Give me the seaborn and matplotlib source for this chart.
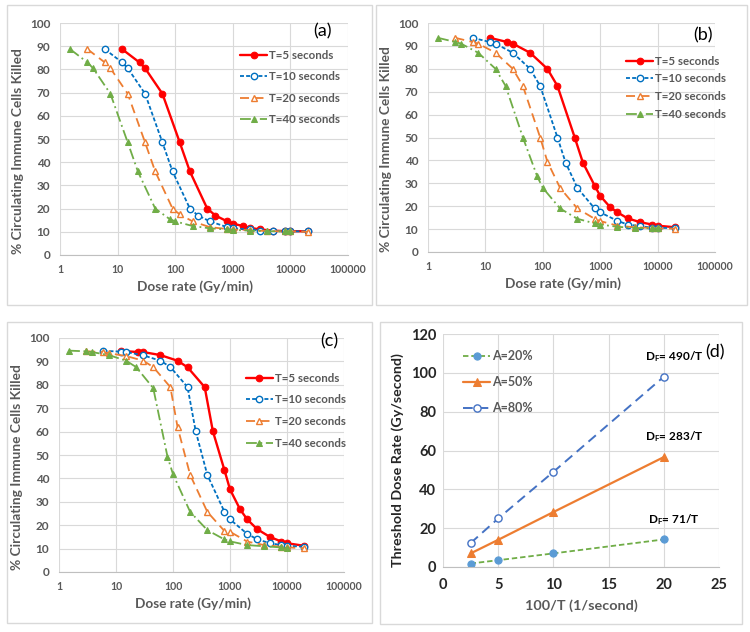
import matplotlib
matplotlib.use("Agg")
import matplotlib.pyplot as plt
import seaborn as sns
from matplotlib.patches import Rectangle
from matplotlib.ticker import FixedLocator, LogLocator, NullFormatter

# dose rates (Gy/min) per exposure time
rate_t5 = [12, 24, 30, 60, 120, 180, 360, 500, 800, 1000, 1500, 2000, 3000, 5000, 8000, 10000, 20000]
rate_t10 = [6, 12, 15, 30, 60, 90, 180, 250, 400, 800, 1000, 2000, 3000, 5000, 8000, 10000, 20000]
rate_t20 = [3, 6, 7.5, 15, 30, 45, 90, 120, 200, 400, 800, 1000, 2000, 4000, 8000, 10000, 20000]
rate_t40 = [1.5, 3, 3.75, 7.5, 15, 22.5, 45, 80, 100, 200, 400, 800, 1000, 2000, 4000, 8000, 10000]

# panel (a)
a_t5 = [88.7, 83, 80.5, 69.5, 48.5, 36, 20, 17, 14.5, 13.5, 12.5, 11.7, 11, 10.5, 10.3, 10.3, 10.2]
a_t10 = [88.7, 83, 80.5, 69.5, 48.5, 36, 20, 17, 14.5, 12, 11.5, 11, 10.5, 10.3, 10.3, 10.2, 10.2]
a_t20 = [88.7, 83, 80.5, 69.5, 48.5, 36, 20, 17.5, 14.5, 12, 11.2, 11, 10.7, 10.3, 10.2, 10.2, 10]
a_t40 = [88.7, 83, 80.5, 69.5, 48.5, 36, 20, 15.5, 14.5, 12.5, 11.5, 11, 10.8, 10.5, 10.2, 10.2, 10.2]

# panel (b)
b_t5 = [93.5, 91.7, 91, 87, 80, 72.5, 50, 39, 29, 24.5, 19.5, 17.3, 14.7, 13, 12, 11.5, 10.8]
b_t10 = [93.5, 91.7, 91, 87, 80, 72.5, 50, 39, 28, 19, 17.3, 13.6, 12, 11.3, 10.6, 10.5, 10.5]
b_t20 = [93.5, 91.7, 91, 87, 80, 72.5, 50, 39.5, 28, 19, 14.5, 13.5, 11.5, 10.8, 10.5, 10.3, 10.2]
b_t40 = [93.5, 91.7, 91, 87, 80, 72.5, 50, 33, 28, 19, 14.5, 12.5, 12, 11, 10.5, 10.3, 10.3]

# panel (c)
c_t5 = [94.5, 94, 94, 92.7, 90.3, 87.5, 79, 60.2, 43.5, 35.3, 26.8, 22.5, 18.3, 15, 13, 12.3, 11.2]
c_t10 = [94.5, 94.2, 94, 92.6, 90.3, 87.6, 79, 60.2, 41.5, 25.7, 22.5, 16.3, 14, 12.3, 11.5, 11.2, 10.8]
c_t20 = [94.3, 94, 93.5, 92.3, 90.3, 87.6, 79, 62, 41.5, 25.7, 17.5, 17.2, 13, 11.5, 10.8, 10.5, 10.2]
c_t40 = [94.6, 94.3, 94, 92.7, 90.3, 87.6, 78.6, 49.3, 41.8, 25.7, 17.9, 13.9, 13.1, 11.5, 11, 10.5, 10.3]

series_labels = ['T=5 seconds', 'T=10 seconds', 'T=20 seconds', 'T=40 seconds']
x_tick_vals = [1, 10, 100, 1000, 10000, 100000]
x_tick_labels = ['1', '10', '100', '1000', '10000', '100000']

# panel (d)
inv_t = [2.5, 5, 10, 20]
d_a20 = [1.8, 3.5, 7, 14.2]
d_a50 = [7, 14, 28.3, 56.6]
d_a80 = [12.3, 25, 49, 98]
d_labels = ['A=20%', 'A=50%', 'A=80%']
d_notes = ['71/T', '283/T', '490/T']

sns.set_style("white")
plt.rcParams['font.family'] = ['Lato', 'DejaVu Sans']
plt.rcParams['mathtext.fontset'] = 'custom'
plt.rcParams['mathtext.rm'] = 'Lato:bold'
plt.rcParams['mathtext.it'] = 'Lato:bold'

GRAY = '#595959'
GRID = '#D9D9D9'

fig = plt.figure(figsize=(7.5, 6.32), dpi=100)
W, H = 750, 632


def px_box(x0, y0, x1, y1):
    fig.patches.append(Rectangle((x0 / W, 1 - y1 / H), (x1 - x0) / W, (y1 - y0) / H,
                                 transform=fig.transFigure, fill=False,
                                 edgecolor=GRID, lw=1.0, zorder=0))


def px_axes(x0, y0, x1, y1):
    return fig.add_axes([x0 / W, 1 - y1 / H, (x1 - x0) / W, (y1 - y0) / H])


styles = [
    dict(color='#FF0000', linestyle='-', lw=1.7, marker='o', ms=4.8, mfc='#FF0000', mec='#FF0000'),
    dict(color='#0070C0', linestyle=(0, (2.2, 1.2)), lw=1.3, marker='o', ms=4.6, mfc='white', mec='#0070C0', mew=1.0),
    dict(color='#ED7D31', linestyle=(0, (5, 3)), lw=1.3, marker='^', ms=5, mfc='white', mec='#ED7D31', mew=1.0),
    dict(color='#70AD47', linestyle=(0, (6, 2, 1, 2)), lw=1.3, marker='^', ms=5, mfc='#70AD47', mec='#70AD47'),
]


def dose_panel(ax, ys, tag, leg_anchor, tag_pos, leg_space):
    rates = [rate_t5, rate_t10, rate_t20, rate_t40]
    for xv, yv, lab, st in zip(rates, ys, series_labels, styles):
        sns.lineplot(x=xv, y=yv, ax=ax, label=lab, **st)
    ax.set_xscale('log')
    ax.set_xlim(1, 100000)
    ax.set_ylim(0, 100)
    ax.xaxis.set_major_locator(FixedLocator(x_tick_vals))
    ax.set_xticklabels(x_tick_labels)
    ax.xaxis.set_minor_locator(LogLocator(base=10, subs=range(2, 10)))
    ax.xaxis.set_minor_formatter(NullFormatter())
    ax.set_yticks(range(0, 101, 10))
    ax.grid(True, which='major', color=GRID, lw=0.8)
    for s in ['top', 'right', 'left']:
        ax.spines[s].set_visible(False)
    ax.spines['bottom'].set_color('#BFBFBF')
    ax.tick_params(axis='x', which='major', length=0, pad=6.5, labelsize=7.6, labelcolor=GRAY)
    ax.tick_params(axis='x', which='minor', direction='in', length=2.5, color='#BFBFBF', width=0.6)
    ax.tick_params(axis='y', length=0, pad=7, labelsize=8.5, labelcolor=GRAY)
    for t in ax.get_xticklabels() + ax.get_yticklabels():
        t.set_fontweight('bold')
    ax.set_xlabel('Dose rate (Gy/min)', fontsize=9.8, fontweight='bold', color=GRAY, labelpad=4)
    ax.set_ylabel('% Circulating Immune Cells Killed', fontsize=9.9, fontweight='bold', color=GRAY, labelpad=4)
    ax.xaxis.label.set_x(0.47)
    ax.yaxis.label.set_y(0.45)
    ax.text(tag_pos[0], tag_pos[1], tag, transform=ax.transAxes, fontsize=13,
            ha='center', va='top', color='black')
    leg = ax.legend(loc='upper left', bbox_to_anchor=leg_anchor, frameon=False,
                    fontsize=8.3, handlelength=2.3, handletextpad=0.2,
                    labelspacing=leg_space, borderaxespad=0)
    for t in leg.get_texts():
        t.set_color(GRAY)
        t.set_fontweight('bold')


# panel boxes
px_box(7, 5, 372, 305)
px_box(376, 5, 747, 305)
px_box(7, 322, 372, 623)
px_box(380, 322, 742, 624)

ax_a = px_axes(60, 23, 348, 255)
dose_panel(ax_a, [a_t5, a_t10, a_t20, a_t40], '(a)', (0.61, 0.905), (0.913, 1.0), 0.91)

ax_b = px_axes(428, 23, 715, 252)
dose_panel(ax_b, [b_t5, b_t10, b_t20, b_t40], '(b)', (0.675, 0.878), (0.958, 0.98), 0.58)

ax_c = px_axes(59, 338, 344, 572)
dose_panel(ax_c, [c_t5, c_t10, c_t20, c_t40], '(c)', (0.64, 0.872), (0.95, 1.02), 0.93)

# panel (d)
ax_d = px_axes(443, 334, 719, 567)
sns.lineplot(x=inv_t, y=d_a20, ax=ax_d, label=d_labels[0], color='#70AD47',
             linestyle=(0, (3, 1.6)), lw=1.3, marker='o', ms=5.2, mfc='#5B9BD5', mec='#5B9BD5')
sns.lineplot(x=inv_t, y=d_a50, ax=ax_d, label=d_labels[1], color='#ED7D31',
             linestyle='-', lw=1.6, marker='^', ms=5.2, mfc='#ED7D31', mec='#ED7D31')
sns.lineplot(x=inv_t, y=d_a80, ax=ax_d, label=d_labels[2], color='#4472C4',
             linestyle=(0, (5, 3)), lw=1.4, marker='o', ms=5.2, mfc='white', mec='#4472C4', mew=1.0)
ax_d.set_xlim(0, 25)
ax_d.set_ylim(0, 120)
ax_d.set_xticks(range(0, 26, 5))
ax_d.set_yticks(range(0, 121, 20))
ax_d.grid(True, color=GRID, lw=0.8)
for s in ['top', 'right', 'left']:
    ax_d.spines[s].set_visible(False)
ax_d.spines['bottom'].set_color('#BFBFBF')
ax_d.tick_params(axis='x', length=0, pad=8, labelsize=10.5, labelcolor='#262626')
ax_d.tick_params(axis='y', length=0, pad=5, labelsize=10.5, labelcolor='#262626')
for t in ax_d.get_xticklabels() + ax_d.get_yticklabels():
    t.set_fontweight('bold')
ax_d.set_xlabel('100/T (1/second)', fontsize=10.4, fontweight='bold', color=GRAY, labelpad=5)
ax_d.set_ylabel('Threshold Dose Rate (Gy/second)', fontsize=10.3, fontweight='bold', color='#262626', labelpad=5)
ax_d.yaxis.label.set_y(0.46)
ax_d.text(0.985, 0.92, '(d)', transform=ax_d.transAxes, fontsize=13, ha='center', va='center', color='black')
for note, ypos in zip(d_notes, [d_a20[-1], d_a50[-1], d_a80[-1]]):
    ax_d.text(inv_t[-1] + 0.9, ypos + 6.5, r'D$_{\rm F}$= ' + note, fontsize=8.5,
              fontweight='bold', ha='center', va='bottom', color='black')
leg = ax_d.legend(loc='upper left', bbox_to_anchor=(0.056, 0.953), frameon=False,
                  fontsize=9, handlelength=2.1, handletextpad=0.2, labelspacing=1.12,
                  borderaxespad=0)
for t in leg.get_texts():
    t.set_color(GRAY)
    t.set_fontweight('bold')

plt.savefig('out.png', dpi=100)
